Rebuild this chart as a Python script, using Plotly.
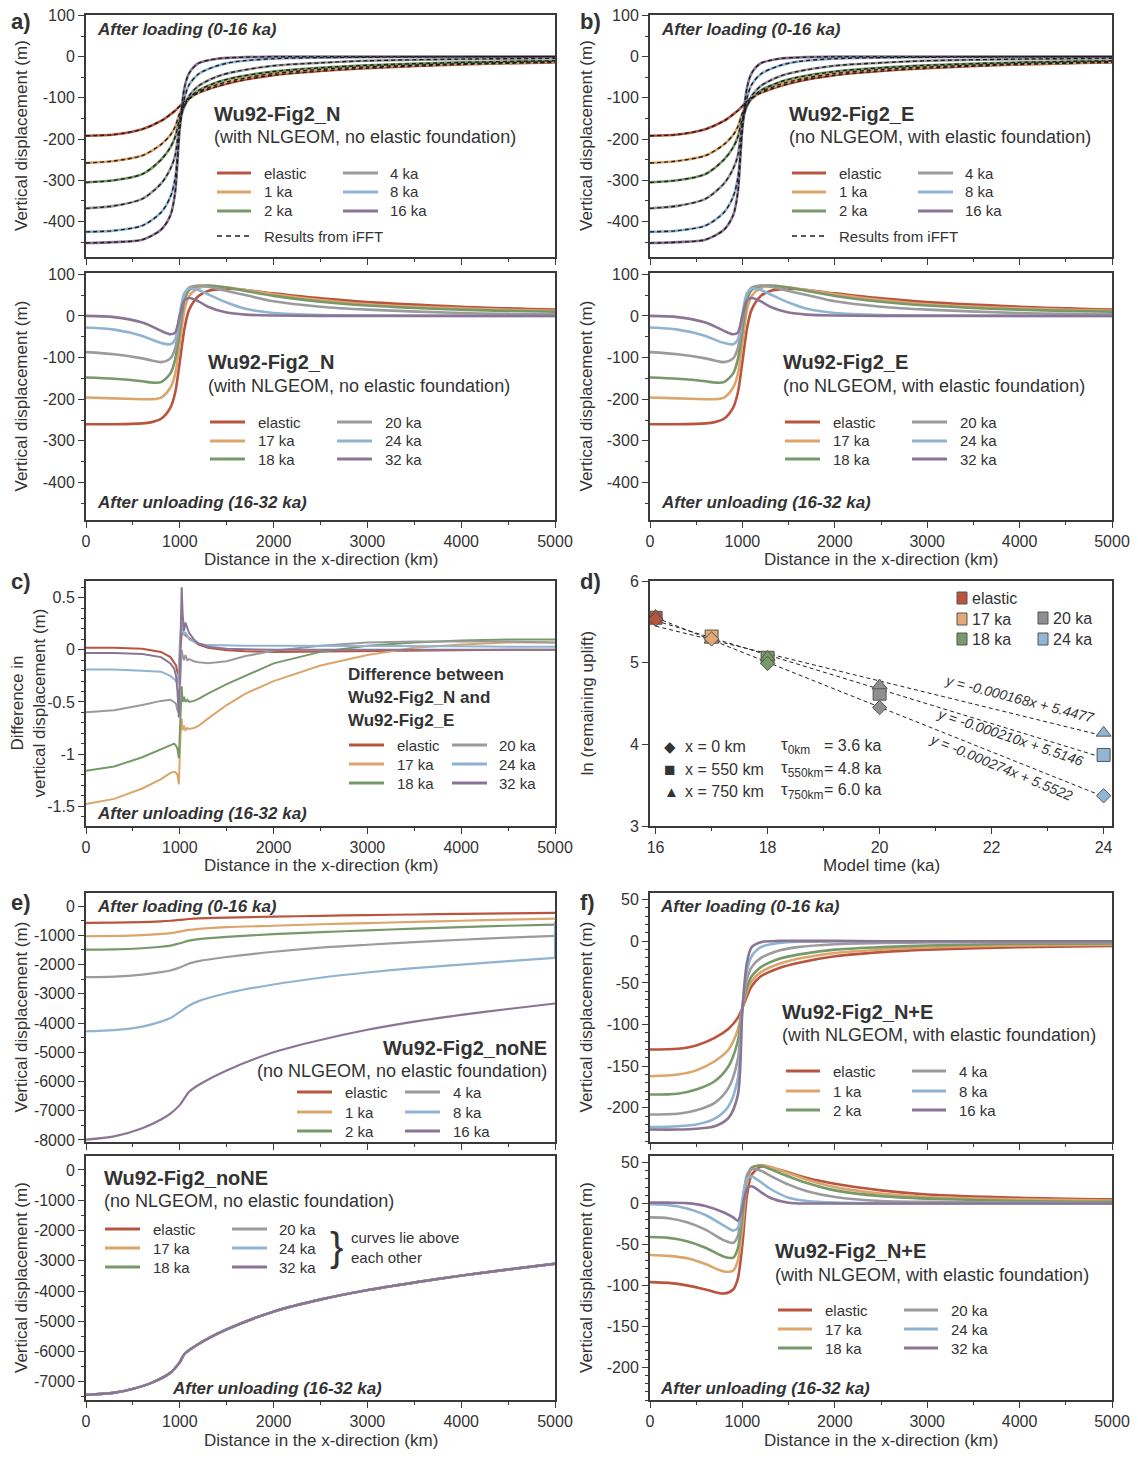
import plotly.graph_objects as go

PAGE_W, PAGE_H = 1138, 1459
BODY_MARGIN = 8          # default browser body margin around the figure div
W, H = PAGE_W - 2 * BODY_MARGIN, PAGE_H - 2 * BODY_MARGIN
FONT = "Liberation Sans, Arial, sans-serif"
TXT = "#333333"

# ---------------- colours ----------------
C_EL = "#b9553e"
C_1 = "#dca56c"
C_2 = "#77996a"
C_4 = "#9b9b9d"
C_8 = "#8fb3d1"
C_16 = "#8b7594"
COLORS = [C_EL, C_1, C_2, C_4, C_8, C_16]
LOAD_NAMES = ["elastic", "1 ka", "2 ka", "4 ka", "8 ka", "16 ka"]
UNL_NAMES = ["elastic", "17 ka", "18 ka", "20 ka", "24 ka", "32 ka"]

# ---------------- tick values ----------------
X_TICKS = [0, 1000, 2000, 3000, 4000, 5000]
AB_YTICKS = [100, 0, -100, -200, -300, -400]
C_YTICKS = [0.5, 0, -0.5, -1, -1.5]
D_YTICKS = [6, 5, 4, 3]
D_XTICKS = [16, 18, 20, 22, 24]
E_YTICKS = [0, -1000, -2000, -3000, -4000, -5000, -6000, -7000, -8000]
F_YTICKS = [50, 0, -50, -100, -150, -200]

# ---------------- data: a/b loading (Wu92-Fig2_N and _E, visually identical) ----------------
X_AB_LOAD = [0, 300, 600, 800, 900, 950, 1000, 1050, 1100, 1200, 1400, 1600, 2000, 2500, 3000, 4000, 5000]
AB_LOAD_EL = [-192, -189, -176, -156, -140, -131, -120, -108, -100, -88, -72, -60, -45, -35, -28, -19, -14]
AB_LOAD_1 = [-258, -253, -240, -213, -190, -170, -137, -116, -103, -86, -68, -56, -41, -31, -25, -17, -12]
AB_LOAD_2 = [-305, -300, -285, -250, -220, -195, -150, -120, -101, -82, -62, -50, -36, -27, -21, -14, -10]
AB_LOAD_4 = [-368, -362, -345, -308, -272, -240, -160, -118, -95, -71, -48, -36, -22, -15, -10, -6, -4]
AB_LOAD_8 = [-425, -422, -410, -378, -340, -295, -175, -100, -68, -42, -22, -12, -5, -2.5, -1.5, -0.5, 0]
AB_LOAD_16 = [-452, -450, -444, -420, -385, -330, -170, -75, -40, -16, -5, -2, 0, 0, 0, 0, 0]

# ---------------- data: a/b unloading ----------------
X_AB_UNL = [0, 300, 600, 700, 800, 900, 950, 1000, 1050, 1100, 1200, 1300, 1500, 1700, 2000, 2500, 3000, 4000, 5000]
AB_UNL_EL = [-260, -260, -258, -255, -247, -220, -185, -110, -30, 15, 48, 60, 65, 62, 54, 42, 33, 22, 15]
AB_UNL_17 = [-196, -198, -200, -200, -196, -172, -140, -65, 15, 48, 67, 72, 68, 62, 52, 38, 28, 18, 12]
AB_UNL_18 = [-148, -151, -157, -160, -159, -138, -105, -35, 38, 62, 72, 73, 68, 60, 48, 34, 25, 15, 10]
AB_UNL_20 = [-87, -92, -102, -107, -111, -102, -78, -12, 50, 68, 73, 70, 60, 50, 35, 22, 15, 7, 4]
AB_UNL_24 = [-28, -33, -48, -57, -65, -68, -57, 5, 55, 66, 62, 52, 32, 17, 7, 2, 1, 0, 0]
AB_UNL_32 = [0, -3, -16, -25, -36, -44, -40, 0, 38, 43, 35, 22, 8, 3, 1, 0, 0, 0, 0]

# ---------------- data: c difference ----------------
X_C = [0, 300, 600, 800, 900, 940, 960, 975, 990, 1000, 1010, 1020, 1030, 1045, 1060, 1080, 1100,
       1150, 1200, 1300, 1500, 1700, 2000, 2500, 3000, 3500, 4000, 4500, 5000]
C_DIFF_EL = [0.02, 0.02, 0.01, -0.02, -0.07, -0.12, -0.15, -0.22, -0.25, -0.05, 0.1, 0.15, 0.16, 0.15, 0.14, 0.12, 0.11,
             0.08, 0.05, 0.02, -0.005, -0.015, -0.02, -0.015, -0.01, -0.005, 0, 0, 0]
C_DIFF_17 = [-1.48, -1.43, -1.33, -1.24, -1.18, -1.17, -1.18, -1.2, -1.29, -1.0, -0.75, -0.66, -0.77, -0.73, -0.77, -0.75, -0.76,
             -0.75, -0.73, -0.66, -0.53, -0.42, -0.3, -0.15, -0.05, 0.02, 0.05, 0.07, 0.07]
C_DIFF_18 = [-1.16, -1.12, -1.03, -0.95, -0.91, -0.9, -0.92, -0.95, -1.04, -0.75, -0.45, -0.35, -0.5, -0.45, -0.5, -0.48, -0.5,
             -0.49, -0.47, -0.42, -0.33, -0.25, -0.13, -0.02, 0.04, 0.07, 0.09, 0.1, 0.1]
C_DIFF_20 = [-0.6, -0.58, -0.53, -0.49, -0.48, -0.5, -0.52, -0.58, -0.6, -0.35, -0.1, 0.0, -0.05, -0.1, -0.05, -0.1, -0.09,
             -0.11, -0.12, -0.13, -0.11, -0.06, -0.01, 0.04, 0.07, 0.08, 0.08, 0.08, 0.07]
C_DIFF_24 = [-0.19, -0.19, -0.2, -0.21, -0.25, -0.28, -0.3, -0.33, -0.2, 0.05, 0.2, 0.3, 0.2, 0.14, 0.17, 0.13, 0.1,
             0.08, 0.06, 0.045, 0.04, 0.04, 0.04, 0.04, 0.04, 0.035, 0.035, 0.03, 0.03]
C_DIFF_32 = [-0.03, -0.03, -0.04, -0.07, -0.13, -0.18, -0.25, -0.4, -0.65, -0.3, 0.2, 0.6, 0.35, 0.18, 0.26, 0.2, 0.16,
             0.1, 0.06, 0.03, 0.01, 0.005, 0, 0, 0, 0, 0, 0, 0]

# ---------------- data: d ln(remaining uplift) ----------------
D_TIMES = [16, 17, 18, 20, 24]
D_COLORS = [C_EL, "#e2a878", "#779a68", "#8f8f91", "#92b6d6"]
D_LN_0KM = [5.53, 5.29, 4.99, 4.45, 3.37]
D_LN_550KM = [5.55, 5.32, 5.06, 4.62, 3.87]
D_LN_750KM = [5.57, 5.28, 5.07, 4.72, 4.14]
D_FIT_SLOPE = [-0.000168, -0.000210, -0.000274]
D_FIT_ICPT = [5.4477, 5.5146, 5.5522]
D_FIT_LABEL = ["y = -0.000168x + 5.4477", "y = -0.000210x + 5.5146", "y = -0.000274x + 5.5522"]
D_TAU = [("0km", "3.6"), ("550km", "4.8"), ("750km", "6.0")]
D_XKM = ["x = 0 km", "x = 550 km", "x = 750 km"]

# ---------------- data: e noNE ----------------
X_E_LOAD = [0, 300, 600, 800, 900, 1000, 1100, 1200, 1500, 2000, 2500, 3000, 3500, 4000, 4500, 5000]
E_LOAD_EL = [-570, -565, -545, -520, -500, -470, -440, -420, -390, -360, -330, -305, -285, -265, -245, -230]
E_LOAD_1 = [-1030, -1020, -990, -950, -920, -870, -810, -780, -720, -670, -620, -580, -540, -500, -460, -425]
E_LOAD_2 = [-1490, -1480, -1440, -1390, -1350, -1270, -1180, -1130, -1050, -960, -890, -830, -770, -720, -670, -630]
E_LOAD_4 = [-2430, -2410, -2340, -2260, -2200, -2100, -1960, -1880, -1740, -1560, -1420, -1320, -1230, -1150, -1080, -1020]
E_LOAD_8 = [-4280, -4240, -4120, -3950, -3830, -3620, -3400, -3250, -2980, -2680, -2450, -2270, -2120, -2000, -1880, -1770]
E_LOAD_8_EDGE = -520   # vertical artefact at the right edge of the 8 ka curve
E_LOAD_16 = [-7990, -7880, -7600, -7300, -7100, -6800, -6350, -6120, -5620, -5000, -4580, -4230, -3950, -3720, -3520, -3330]

X_E_UNL = [0, 300, 500, 700, 900, 1000, 1050, 1200, 1500, 2000, 2500, 3000, 3500, 4000, 4500, 5000]
E_UNL_ALL = [-7430, -7360, -7230, -7030, -6700, -6350, -6080, -5750, -5270, -4680, -4280, -3970, -3720, -3490, -3290, -3100]

# ---------------- data: f N+E ----------------
X_F_LOAD = [0, 300, 500, 700, 850, 950, 1000, 1050, 1100, 1200, 1400, 1600, 2000, 2500, 3000, 4000, 5000]
F_LOAD_EL = [-130, -129, -125, -116, -105, -92, -80, -66, -54, -42, -32, -26, -18, -13, -10, -7, -5.5]
F_LOAD_1 = [-162, -160, -155, -144, -130, -106, -80, -60, -48, -37, -27, -21, -14, -10, -7.5, -5, -4]
F_LOAD_2 = [-184, -183, -178, -168, -150, -120, -80, -55, -42, -31, -21, -16, -10, -7, -5, -3, -2.5]
F_LOAD_4 = [-208, -207, -203, -194, -176, -142, -80, -45, -31, -20, -11, -7, -3.5, -2, -1.5, -1, -1]
F_LOAD_8 = [-223, -222, -220, -213, -198, -165, -80, -35, -18, -7, -2, -0.5, 0, 0, 0, 0, 0]
F_LOAD_16 = [-226, -226, -225, -222, -212, -185, -82, -25, -7, -1, 0.5, 0.5, 0.5, 0, 0, 0, 0]

X_F_UNL = [0, 200, 400, 600, 800, 900, 950, 1000, 1050, 1100, 1200, 1300, 1500, 1700, 2000, 2500, 3000, 4000, 5000]
F_UNL_EL = [-96, -97, -100, -105, -110, -105, -92, -50, 10, 35, 45, 44, 38, 31, 24, 16, 11, 7, 5]
F_UNL_17 = [-63, -64, -67, -74, -83, -82, -70, -30, 25, 42, 47, 45, 37, 29, 20, 12, 8, 5, 3.5]
F_UNL_18 = [-41, -42, -46, -54, -65, -66, -55, -15, 32, 44, 46, 42, 33, 25, 16, 9, 6, 3, 2]
F_UNL_20 = [-17, -18, -23, -32, -45, -48, -40, 0, 35, 42, 40, 34, 23, 15, 8, 3, 2, 1, 0.5]
F_UNL_24 = [-1, -2, -6, -14, -27, -33, -30, 5, 30, 33, 26, 18, 7, 3, 1, 0, 0, 0, 0]
F_UNL_32 = [1, 1, 0.5, -3, -11, -17, -21, -5, 18, 21, 14, 7, 1, 0, 0, 0, 0, 0, 0]


# ---------------- helpers (page pixel -> paper fraction) ----------------
def px(x):
    return (x - BODY_MARGIN) / W


def py(y):
    return 1 - (y - BODY_MARGIN) / H


def fmt(v):
    # hyphen-minus like the reference (plotly would use a typographic minus)
    return ("%g" % v)


fig = go.Figure()
annotations = []
shapes = []


def text(x, y, s, size=16, anchor="left", bold=False, italic=False, angle=0, yanchor="middle"):
    if italic:
        s = "<i>" + s + "</i>"
    if bold:
        s = "<b>" + s + "</b>"
    annotations.append(dict(x=px(x), y=py(y), xref="paper", yref="paper", text=s, showarrow=False,
                            xanchor=anchor, yanchor=yanchor, textangle=angle,
                            font=dict(family=FONT, size=size, color=TXT)))


LEFT = (86, 555)
RIGHT = (650, 1112)
ROWS = {1: (15, 257), 2: (273, 520), 3: (581, 826), 4: (893, 1142), 5: (1156, 1400)}

# panel id -> (column, row, yrange, ytickvals, yminor, showxlabels, ytitle, ytitle_x)
VD = "Vertical displacement (m)"
PANELS = {
    1: (LEFT, 1, [-486, 101], AB_YTICKS, 50, False, VD, 21),
    2: (LEFT, 2, [-490, 103], AB_YTICKS, 50, True, VD, 21),
    3: (RIGHT, 1, [-486, 101], AB_YTICKS, 50, False, VD, 586),
    4: (RIGHT, 2, [-490, 103], AB_YTICKS, 50, True, VD, 586),
    5: (LEFT, 3, [-1.69, 0.66], C_YTICKS, 0.1, True, "Difference in<br>vertical displacement (m)", 28),
    6: (RIGHT, 3, [3, 6], D_YTICKS, None, True, "ln (remaining uplift)", 587),
    7: (LEFT, 4, [-8070, 450], E_YTICKS, 500, False, VD, 21),
    8: (LEFT, 5, [-7600, 460], E_YTICKS, 500, True, VD, 21),
    9: (RIGHT, 4, [-241, 58], F_YTICKS, 10, False, VD, 586),
    10: (RIGHT, 5, [-240, 58], F_YTICKS, 10, True, VD, 586),
}
XTITLE_Y = {2: 559, 3: 865, 5: 1440}

layout_axes = {}
for pid, (col, row, yr, ytv, ymin, showx, ytitle, ytx) in PANELS.items():
    top, bot = ROWS[row]
    sfx = "" if pid == 1 else str(pid)
    is_d = pid == 6
    xtv = D_XTICKS if is_d else X_TICKS
    xa = dict(
        domain=[px(col[0]), px(col[1])], anchor="y" + sfx, automargin=False,
        range=[15.9, 24.15] if is_d else [0, 5000],
        tickmode="array", tickvals=xtv, ticktext=[fmt(v) for v in xtv],
        showline=True, linecolor="#3a3a3a", linewidth=2, mirror=True,
        ticks="outside", ticklen=6, tickcolor="#3a3a3a", tickwidth=1,
        minor=dict(ticks="outside", ticklen=3, dtick=1 if is_d else 500, tickcolor="#3a3a3a"),
        showgrid=False, zeroline=False, showticklabels=showx, ticklabeloverflow="allow",
        tickfont=dict(family=FONT, size=16, color=TXT),
    )
    ya = dict(
        domain=[py(bot), py(top)], anchor="x" + sfx, range=yr, automargin=False,
        tickmode="array", tickvals=ytv, ticktext=[fmt(v) for v in ytv],
        showline=True, linecolor="#3a3a3a", linewidth=2, mirror=True,
        ticks="outside", ticklen=6, tickcolor="#3a3a3a", tickwidth=1,
        showgrid=False, zeroline=False, ticklabeloverflow="allow",
        tickfont=dict(family=FONT, size=16, color=TXT),
    )
    if ymin is not None:
        ya["minor"] = dict(ticks="outside", ticklen=3, dtick=ymin, tickcolor="#3a3a3a")
    layout_axes["xaxis" + sfx] = xa
    layout_axes["yaxis" + sfx] = ya
    # axis titles as positioned text
    text(ytx, (top + bot) / 2, ytitle, size=17, anchor="center", angle=-90)
    if showx:
        text((col[0] + col[1]) / 2, XTITLE_Y[row],
             "Model time (ka)" if is_d else "Distance in the x-direction (km)", size=17, anchor="center")


def axref(pid):
    return ("x" if pid == 1 else "x" + str(pid)), ("y" if pid == 1 else "y" + str(pid))


def add_curves(pid, xs, series, shape="spline", width=2.6, dashed=False):
    xr, yr = axref(pid)
    for ys, c in zip(series, COLORS):
        fig.add_trace(go.Scatter(x=xs, y=ys, mode="lines", xaxis=xr, yaxis=yr,
                                 line=dict(color=c, width=width, shape=shape, smoothing=0.8),
                                 showlegend=False, hoverinfo="skip"))
    if dashed:
        for ys in series:
            fig.add_trace(go.Scatter(x=xs, y=ys, mode="lines", xaxis=xr, yaxis=yr,
                                     line=dict(color="#1e1e1e", width=1.4, dash="4px,3px",
                                               shape=shape, smoothing=0.8),
                                     showlegend=False, hoverinfo="skip"))


def swatch(x0, x1, y, color, dash=None, width=3):
    ln = dict(color=color, width=width)
    if dash:
        ln["dash"] = dash
    shapes.append(dict(type="line", xref="paper", yref="paper", x0=px(x0), x1=px(x1),
                       y0=py(y), y1=py(y), line=ln))


def legend6(names, c1, c2, rows, size=15):
    # c1/c2 = (swatch_x0, swatch_x1, text_x)
    for i in range(6):
        col = c1 if i < 3 else c2
        y = rows[i % 3]
        swatch(col[0], col[1], y, COLORS[i])
        text(col[2], y, names[i], size=size)


# ---------------- panel a / b ----------------
LOAD_AB = [AB_LOAD_EL, AB_LOAD_1, AB_LOAD_2, AB_LOAD_4, AB_LOAD_8, AB_LOAD_16]
UNL_AB = [AB_UNL_EL, AB_UNL_17, AB_UNL_18, AB_UNL_20, AB_UNL_24, AB_UNL_32]
add_curves(1, X_AB_LOAD, LOAD_AB, dashed=True)
add_curves(3, X_AB_LOAD, LOAD_AB, dashed=True)
add_curves(2, X_AB_UNL, UNL_AB)
add_curves(4, X_AB_UNL, UNL_AB)

for (xoff, tagx, name, sub) in [(0, 95, "Wu92-Fig2_N", "(with NLGEOM, no elastic foundation)"),
                                (575, 659, "Wu92-Fig2_E", "(no NLGEOM, with elastic foundation)")]:
    text(tagx, 29, "After loading (0-16 ka)", size=17, bold=True, italic=True)
    text(212 + xoff, 114, name, size=20, bold=True)
    text(212 + xoff, 137, sub, size=18)
    legend6(LOAD_NAMES, (217 + xoff, 251 + xoff, 262 + xoff), (343 + xoff, 378 + xoff, 388 + xoff), [173, 192, 211])
    swatch(217 + xoff, 251 + xoff, 236, "#1e1e1e", dash="5px,4px", width=1.6)
    text(262 + xoff, 236, "Results from iFFT", size=15)
    # unloading panel
    text(206 + xoff, 362, name, size=20, bold=True)
    text(206 + xoff, 386, sub, size=18)
    legend6(UNL_NAMES, (210 + xoff, 245 + xoff, 256 + xoff), (337 + xoff, 372 + xoff, 383 + xoff), [422, 441, 459])
    text(tagx, 503, "After unloading (16-32 ka)", size=17, bold=True, italic=True)

# ---------------- panel c ----------------
DIFF = [C_DIFF_EL, C_DIFF_17, C_DIFF_18, C_DIFF_20, C_DIFF_24, C_DIFF_32]
add_curves(5, X_C, DIFF, shape="linear", width=2.0)
text(346, 674, "Difference between", size=17, bold=True)
text(346, 697, "Wu92-Fig2_N and", size=17, bold=True)
text(346, 720, "Wu92-Fig2_E", size=17, bold=True)
legend6(UNL_NAMES, (349, 384, 395), (452, 487, 497), [745, 764, 783])
text(95, 813, "After unloading (16-32 ka)", size=17, bold=True, italic=True)

# ---------------- panel d ----------------
xr6, yr6 = axref(6)
for s, b in zip(D_FIT_SLOPE, D_FIT_ICPT):
    fig.add_trace(go.Scatter(x=[D_TIMES[0], D_TIMES[-1]],
                             y=[b + s * (D_TIMES[0] - 16) * 1000, b + s * (D_TIMES[-1] - 16) * 1000],
                             mode="lines", xaxis=xr6, yaxis=yr6,
                             line=dict(color="#222222", width=1, dash="4px,3px"),
                             showlegend=False, hoverinfo="skip"))
for vals, sym, size in [(D_LN_550KM, "square", 13), (D_LN_750KM, "triangle-up", 13), (D_LN_0KM, "diamond", 11)]:
    fig.add_trace(go.Scatter(x=D_TIMES, y=vals, mode="markers", xaxis=xr6, yaxis=yr6,
                             marker=dict(symbol=sym, size=size, color=D_COLORS,
                                         line=dict(color="#555555", width=1)),
                             showlegend=False, hoverinfo="skip"))

for (x, y, lbl, c) in [(957, 598, "elastic", D_COLORS[0]), (957, 619, "17 ka", D_COLORS[1]),
                       (1038, 618, "20 ka", D_COLORS[3]), (957, 639, "18 ka", D_COLORS[2]),
                       (1038, 639, "24 ka", D_COLORS[4])]:
    shapes.append(dict(type="rect", xref="paper", yref="paper", x0=px(x), x1=px(x + 10),
                       y0=py(y + 6), y1=py(y - 6), fillcolor=c, line=dict(color="#555555", width=1)))
    text(x + 13, y, lbl, size=16)

for i, (sym, yy, ssz) in enumerate(zip(["◆", "■", "▲"], [746, 769, 791], [15, 19, 15])):
    text(662, yy, sym, size=ssz)
    text(683, yy, D_XKM[i], size=16)
    text(779, yy, "τ<sub>" + D_TAU[i][0] + "</sub>", size=17)
    text(822, yy - 1, "= " + D_TAU[i][1] + " ka", size=16)

for lbl, (x, y, a) in zip(D_FIT_LABEL, [(1020, 699, 14.5), (1010, 737, 18.5), (1001, 767, 22.5)]):
    text(x, y, "<i>" + lbl + "</i>", size=14, anchor="center", angle=a)

# ---------------- panel e ----------------
LOAD_E = [E_LOAD_EL, E_LOAD_1, E_LOAD_2, E_LOAD_4, E_LOAD_8, E_LOAD_16]
add_curves(7, X_E_LOAD, LOAD_E, width=2.2)
xr7, yr7 = axref(7)
fig.add_trace(go.Scatter(x=[X_E_LOAD[-1], X_E_LOAD[-1]], y=[E_LOAD_8[-1], E_LOAD_8_EDGE], mode="lines",
                         xaxis=xr7, yaxis=yr7, line=dict(color=C_8, width=2.2),
                         showlegend=False, hoverinfo="skip"))
add_curves(8, X_E_UNL, [E_UNL_ALL] * 6, width=2.4)

text(95, 906, "After loading (0-16 ka)", size=17, bold=True, italic=True)
text(549, 1048, "Wu92-Fig2_noNE", size=20, bold=True, anchor="right")
text(549, 1071, "(no NLGEOM, no elastic foundation)", size=18, anchor="right")
legend6(LOAD_NAMES, (297, 332, 343), (405, 440, 451), [1092, 1112, 1131])

text(102, 1178, "Wu92-Fig2_noNE", size=20, bold=True)
text(102, 1201, "(no NLGEOM, no elastic foundation)", size=18)
legend6(UNL_NAMES, (105, 140, 151), (232, 267, 277), [1229, 1248, 1267])
text(328, 1247, "}", size=40)
text(349, 1237, "curves lie above", size=15)
text(349, 1257, "each other", size=15)
text(170, 1388, "After unloading (16-32 ka)", size=17, bold=True, italic=True)

# ---------------- panel f ----------------
LOAD_F = [F_LOAD_EL, F_LOAD_1, F_LOAD_2, F_LOAD_4, F_LOAD_8, F_LOAD_16]
UNL_F = [F_UNL_EL, F_UNL_17, F_UNL_18, F_UNL_20, F_UNL_24, F_UNL_32]
add_curves(9, X_F_LOAD, LOAD_F)
add_curves(10, X_F_UNL, UNL_F)

text(658, 906, "After loading (0-16 ka)", size=17, bold=True, italic=True)
text(780, 1012, "Wu92-Fig2_N+E", size=20, bold=True)
text(780, 1035, "(with NLGEOM, with elastic foundation)", size=18)
legend6(LOAD_NAMES, (786, 820, 831), (912, 946, 957), [1071, 1091, 1110])

text(773, 1251, "Wu92-Fig2_N+E", size=20, bold=True)
text(773, 1275, "(with NLGEOM, with elastic foundation)", size=18)
legend6(UNL_NAMES, (778, 812, 823), (904, 938, 949), [1310, 1329, 1348])
text(658, 1388, "After unloading (16-32 ka)", size=17, bold=True, italic=True)

# ---------------- panel letters ----------------
for lbl, x, y in [("a)", 9, 21), ("b)", 578, 21), ("c)", 9, 581), ("d)", 578, 581), ("e)", 9, 902), ("f)", 578, 902)]:
    text(x, y, lbl, size=22, bold=True)

fig.update_layout(
    width=W, height=H, margin=dict(l=0, r=0, t=0, b=0, autoexpand=False),
    paper_bgcolor="white", plot_bgcolor="white",
    showlegend=False, annotations=annotations, shapes=shapes,
    font=dict(family=FONT, color=TXT),
    **layout_axes,
)

fig.write_html("out.html")
